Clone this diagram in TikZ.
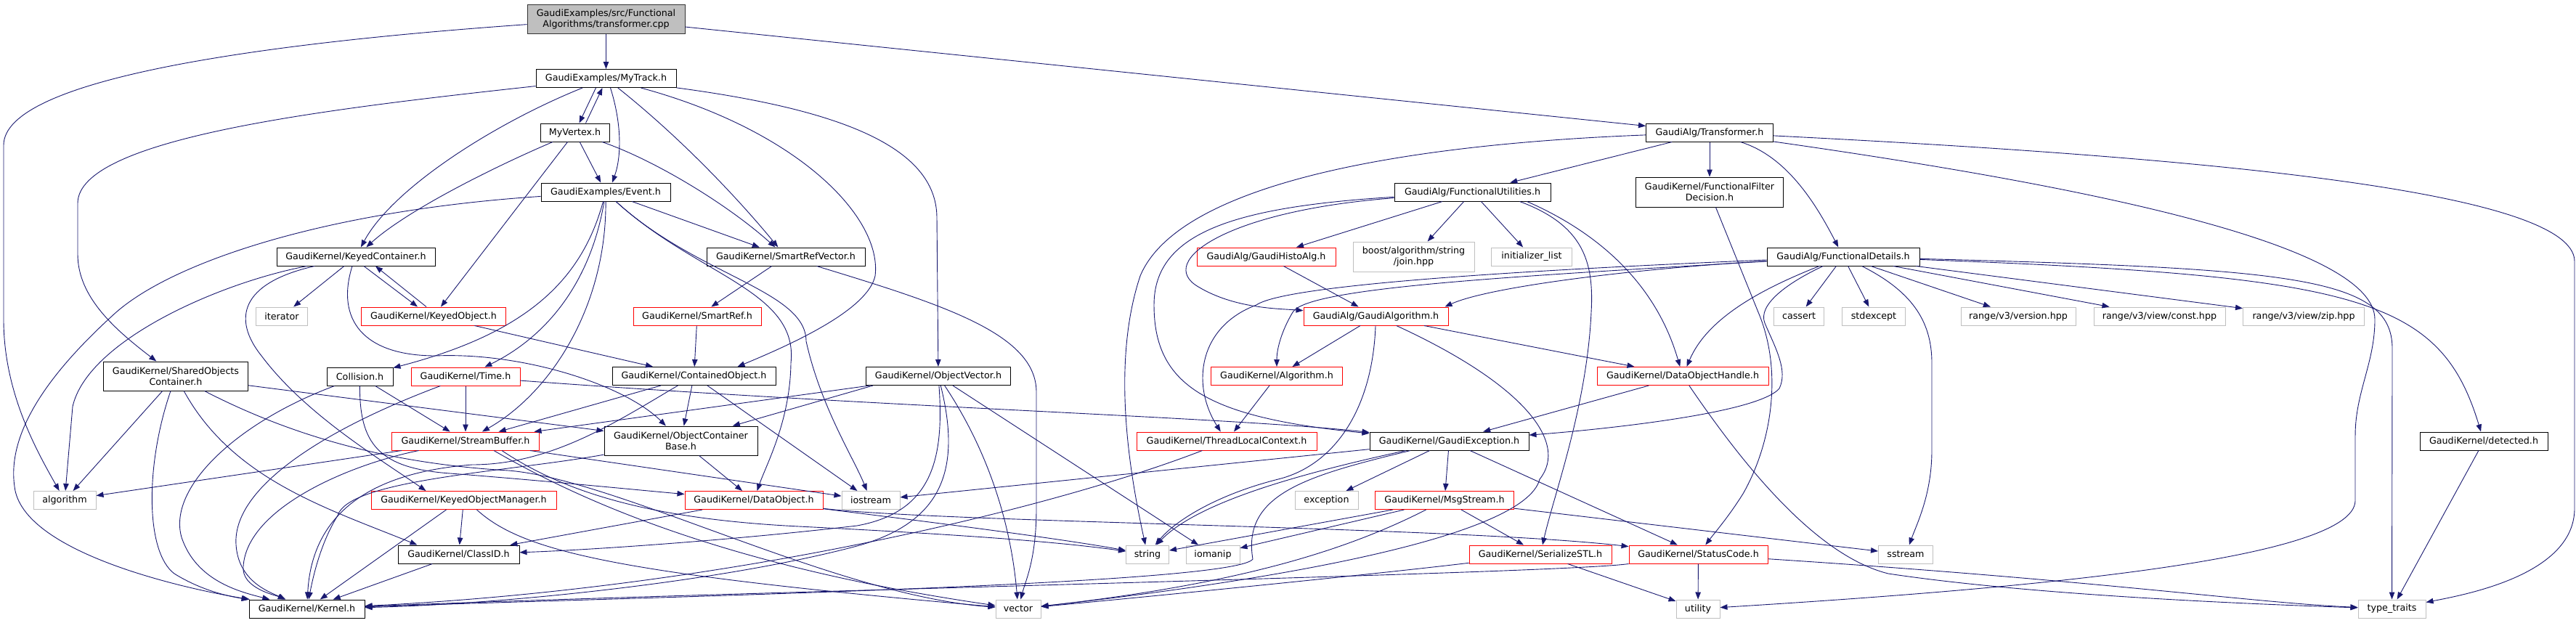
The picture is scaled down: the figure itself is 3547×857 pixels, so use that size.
\documentclass[tikz,border=0pt]{standalone}
\usepackage{fontspec}
\setmainfont{DejaVu Sans}
\usepackage{xcolor}
\usepackage{tikz}
\usetikzlibrary{arrows.meta}
\definecolor{edgeblue}{HTML}{191970}
\definecolor{sysgray}{HTML}{BFBFBF}
\definecolor{rootgray}{HTML}{BFBFBF}
\definecolor{truncred}{HTML}{FF0000}
\tikzset{hdr/.style={rectangle,draw=black,line width=1pt,inner sep=0pt,minimum height=25pt,align=center,font=\fontsize{12.7}{15}\selectfont},
trunc/.style={hdr,draw=truncred},
sys/.style={hdr,draw=sysgray},
top/.style={hdr,fill=rootgray,draw=black!80},
inc/.style={draw=edgeblue,line width=0.9pt,-{Triangle[length=10pt,width=7.5pt]}}}

\begin{document}
\begin{tikzpicture}[x=1pt,y=-1pt]
    \useasboundingbox (0,0) rectangle (3547,857);

    \node[top, minimum width=217pt, minimum height=40pt] (root) at (834.5,26) {GaudiExamples/src/Functional\\Algorithms/transformer.cpp};
    \node[hdr, minimum width=193pt] (mytrack) at (834.5,108) {GaudiExamples/MyTrack.h};
    \node[hdr, minimum width=95pt] (myvertex) at (791.5,182.5) {MyVertex.h};
    \node[hdr, minimum width=178pt] (event) at (834,264.5) {GaudiExamples/Event.h};
    \node[hdr, minimum width=218pt] (keycont) at (490,353.5) {GaudiKernel/KeyedContainer.h};
    \node[hdr, minimum width=218pt] (srefvec) at (1082,353.5) {GaudiKernel/SmartRefVector.h};
    \node[trunc, minimum width=199pt] (keyobj) at (597,435.5) {GaudiKernel/KeyedObject.h};
    \node[sys, minimum width=71pt] (iter) at (388,435.5) {iterator};
    \node[hdr, minimum width=199pt, minimum height=40pt] (shared) at (242,518) {GaudiKernel/SharedObjects\\Container.h};
    \node[sys, minimum width=86pt] (algo) at (89,689) {algorithm};
    \node[hdr, minimum width=159pt] (kernel) at (422.5,838.5) {GaudiKernel/Kernel.h};
    \node[hdr, minimum width=91pt] (collision) at (495.5,518.5) {Collision.h};
    \node[trunc, minimum width=150pt] (time) at (641,518.5) {GaudiKernel/Time.h};
    \node[trunc, minimum width=203pt] (sbuf) at (641,607.5) {GaudiKernel/StreamBuffer.h};
    \node[trunc, minimum width=255pt] (kobjmgr) at (638.5,689) {GaudiKernel/KeyedObjectManager.h};
    \node[hdr, minimum width=167pt] (classid) at (631.5,763.5) {GaudiKernel/ClassID.h};
    \node[trunc, minimum width=176pt] (sref) at (960,435.5) {GaudiKernel/SmartRef.h};
    \node[hdr, minimum width=225pt] (contobj) at (955.5,518) {GaudiKernel/ContainedObject.h};
    \node[hdr, minimum width=211pt, minimum height=40pt] (ocbase) at (937.5,607) {GaudiKernel/ObjectContainer\\Base.h};
    \node[trunc, minimum width=190pt] (dataobj) at (1038,689) {GaudiKernel/DataObject.h};
    \node[sys, minimum width=80pt] (iostr) at (1199,689) {iostream};
    \node[hdr, minimum width=199pt] (objvec) at (1292,518) {GaudiKernel/ObjectVector.h};
    \node[sys, minimum width=59pt] (str) at (1580,763.5) {string};
    \node[sys, minimum width=74pt] (iomanip) at (1670,763.5) {iomanip};
    \node[sys, minimum width=62pt] (vec) at (1402,838.5) {vector};
    \node[trunc, minimum width=248pt] (tlc) at (1689,607.5) {GaudiKernel/ThreadLocalContext.h};
    \node[trunc, minimum width=181pt] (alg) at (1758,518) {GaudiKernel/Algorithm.h};
    \node[trunc, minimum width=191pt] (histoalg) at (1743.5,353.5) {GaudiAlg/GaudiHistoAlg.h};
    \node[trunc, minimum width=199pt] (gaudialg) at (1894.5,435.5) {GaudiAlg/GaudiAlgorithm.h};
    \node[hdr, minimum width=215pt] (futil) at (2027.5,264.5) {GaudiAlg/FunctionalUtilities.h};
    \node[sys, minimum width=167pt, minimum height=41pt] (boostjoin) at (1946.5,353.5) {boost/algorithm/string\\/join.hpp};
    \node[sys, minimum width=111pt] (initlist) at (2109,353.5) {initializer\_list};
    \node[hdr, minimum width=175pt] (transf) at (2354,182.5) {GaudiAlg/Transformer.h};
    \node[hdr, minimum width=203pt, minimum height=41pt] (filterdec) at (2354,264.5) {GaudiKernel/FunctionalFilter\\Decision.h};
    \node[hdr, minimum width=210pt] (fdetail) at (2538,353.5) {GaudiAlg/FunctionalDetails.h};
    \node[sys, minimum width=69pt] (cassert) at (2477,435.5) {cassert};
    \node[sys, minimum width=87pt] (stdexc) at (2580,435.5) {stdexcept};
    \node[sys, minimum width=158pt] (rversion) at (2779,435.5) {range/v3/version.hpp};
    \node[sys, minimum width=181pt] (rconst) at (2973.5,435.5) {range/v3/view/const.hpp};
    \node[sys, minimum width=167pt] (rzip) at (3172,435.5) {range/v3/view/zip.hpp};
    \node[trunc, minimum width=236pt] (dohandle) at (2317,518) {GaudiKernel/DataObjectHandle.h};
    \node[hdr, minimum width=219pt] (gexc) at (1995.5,607.5) {GaudiKernel/GaudiException.h};
    \node[sys, minimum width=87pt] (exc) at (1826.5,689) {exception};
    \node[trunc, minimum width=191pt] (msgstr) at (1989,689) {GaudiKernel/MsgStream.h};
    \node[trunc, minimum width=196pt] (serstl) at (2121,763.5) {GaudiKernel/SerializeSTL.h};
    \node[trunc, minimum width=191pt] (statcode) at (2338.5,763.5) {GaudiKernel/StatusCode.h};
    \node[sys, minimum width=60pt] (util) at (2338,838.5) {utility};
    \node[sys, minimum width=75pt] (sstr) at (2624,763.5) {sstream};
    \node[hdr, minimum width=176pt] (detected) at (3420,607.5) {GaudiKernel/detected.h};
    \node[sys, minimum width=93pt] (typetr) at (3293.5,838.5) {type\_traits};

    \draw [inc] (root) .. controls (350,60) and (5,110) .. (5,200) -- (5,440) .. controls (5,540) and (50,620) .. (algo);
    \draw [inc] (root) to [] (mytrack);
    \draw [inc] (root) to [] (transf);

    \draw [inc] (mytrack) .. controls (450,150) and (107,190) .. (107,280) -- (107,350) .. controls (107,410) and (160,455) .. (shared);
    \draw [inc] (mytrack) .. controls (680,170) and (540,260) .. (keycont);
    \draw [inc] ([xshift=-14pt]mytrack.south) to [] ([xshift=6pt]myvertex.north);
    \draw [inc] ([xshift=15pt]myvertex.north) to [] ([xshift=-5pt]mytrack.south);
    \draw [inc] ([xshift=6pt]mytrack.south) .. controls (856,170) and (856,215) .. ([xshift=9pt]event.north);
    \draw [inc] (mytrack) .. controls (950,200) and (1030,290) .. (srefvec);
    \draw [inc] (mytrack) .. controls (1100,180) and (1215,300) .. (1205,380) .. controls (1195,425) and (1100,470) .. ([xshift=60pt]contobj.north);
    \draw [inc] (mytrack) .. controls (1150,150) and (1290,200) .. (1290,300) -- (objvec);

    \draw [inc] (myvertex) .. controls (680,230) and (560,290) .. (keycont);
    \draw [inc] (myvertex) to [] (keyobj);
    \draw [inc] (myvertex) to [] (event);
    \draw [inc] (myvertex) .. controls (900,220) and (1000,280) .. (srefvec);

    \draw [inc] (event) .. controls (450,290) and (240,360) .. (160,430) .. controls (60,520) and (10,600) .. (20,670) .. controls (30,760) and (250,810) .. (kernel);
    \draw [inc] (event) to [] (srefvec);
    \draw [inc] (event) .. controls (800,390) and (720,460) .. (collision);
    \draw [inc] (event) .. controls (815,380) and (760,460) .. (time);
    \draw [inc] (event) .. controls (835,420) and (760,540) .. (sbuf);
    \draw [inc] (event) .. controls (960,380) and (1100,400) .. (1089,500) .. controls (1088,580) and (1055,640) .. (dataobj);
    \draw [inc] (event) .. controls (960,380) and (1110,400) .. (1110,470) .. controls (1130,560) and (1175,630) .. (iostr);

    \draw [inc] (srefvec) to [] (sref);
    \draw [inc] (srefvec) .. controls (1300,420) and (1427,460) .. (1427,540) -- (1427,700) .. controls (1427,770) and (1412,800) .. (vec);

    \draw [inc] (keycont) .. controls (300,390) and (120,470) .. (100,560) -- (algo);
    \draw [inc] (keycont) .. controls (330,390) and (320,440) .. (360,490) .. controls (420,570) and (520,630) .. ([xshift=-52pt]kobjmgr.north);
    \draw [inc] (keycont) to [] (iter);
    \draw [inc] ([xshift=-5pt]keycont.south) .. controls (462,440) and (500,490) .. (600,490) .. controls (720,485) and (860,530) .. (ocbase);
    \draw [inc] ([xshift=11pt]keycont.south) to [] ([xshift=-22pt]keyobj.north);
    \draw [inc] ([xshift=-10pt]keyobj.north) to [] ([xshift=27pt]keycont.south);
    \draw [inc] (keyobj) to [] (contobj);

    \draw [inc] (shared) to [] (algo);
    \draw [inc] (shared) .. controls (200,640) and (200,760) .. (240,790) .. controls (280,815) and (320,822) .. (kernel);
    \draw [inc] (shared) .. controls (320,660) and (450,700) .. ([xshift=-57pt]classid.north);
    \draw [inc] (shared) .. controls (420,610) and (560,640) .. (700,648) .. controls (850,660) and (1150,820) .. (vec);
    \draw [inc] (shared) to [] (ocbase);

    \draw [inc] (collision) .. controls (330,580) and (230,670) .. (250,740) .. controls (270,800) and (330,815) .. (kernel);
    \draw [inc] (collision) to [] (sbuf);
    \draw [inc] (collision) .. controls (495,610) and (520,645) .. (620,652) .. controls (750,662) and (880,675) .. (dataobj);

    \draw [inc] (time) to [] (sbuf);
    \draw [inc] (time) .. controls (450,590) and (320,670) .. (325,750) .. controls (328,800) and (370,815) .. (kernel);
    \draw [inc] (time) .. controls (1200,560) and (1700,575) .. (gexc);

    \draw [inc] (sbuf) to [] (algo);
    \draw [inc] (sbuf) .. controls (480,640) and (340,700) .. (335,780) .. controls (332,810) and (380,820) .. (kernel);
    \draw [inc] (sbuf) to [] (iostr);
    \draw [inc] ([xshift=50pt]sbuf.south) .. controls (780,680) and (900,715) .. (1100,725) .. controls (1300,735) and (1450,745) .. (str);
    \draw [inc] ([xshift=39pt]sbuf.south) .. controls (800,690) and (1000,780) .. (vec);

    \draw [inc] (contobj) to [] (sbuf);
    \draw [inc] (contobj) .. controls (850,580) and (760,640) .. (650,640) .. controls (520,650) and (430,700) .. (kernel);
    \draw [inc] (contobj) to [] (ocbase);
    \draw [inc] (contobj) to [] (iostr);

    \draw [inc] (ocbase) to [] (dataobj);
    \draw [inc] (ocbase) .. controls (700,650) and (480,660) .. (465,710) .. controls (440,750) and (430,800) .. (kernel);

    \draw [inc] (dataobj) to [] (classid);
    \draw [inc] (dataobj) .. controls (1300,720) and (2000,725) .. (statcode);
    \draw [inc] (dataobj) .. controls (1250,715) and (1450,740) .. (str);

    \draw [inc] ([xshift=-24pt]kobjmgr.south) to [] (kernel);
    \draw [inc] (kobjmgr) to [] (classid);
    \draw [inc] ([xshift=18pt]kobjmgr.south) .. controls (720,760) and (850,790) .. (vec);

    \draw [inc] (classid) to [] (kernel);

    \draw [inc] (objvec) to [] (sbuf);
    \draw [inc] ([xshift=-90pt]objvec.south) to [] (ocbase);
    \draw [inc] (objvec) .. controls (1300,630) and (1285,705) .. (1180,724) .. controls (1000,745) and (800,758) .. (classid);
    \draw [inc] (objvec) .. controls (1325,650) and (1295,720) .. (1180,752) .. controls (1000,800) and (700,832) .. (kernel);
    \draw [inc] (objvec) .. controls (1360,620) and (1392,720) .. (vec);
    \draw [inc] (objvec) to [] (iomanip);

    \draw [inc] (sref) to [] (contobj);
    \draw [inc] (tlc) .. controls (1450,700) and (1000,810) .. (kernel);
    \draw [inc] (alg) to [] (tlc);
    \draw [inc] (histoalg) to [] (gaudialg);

    \draw [inc] (gaudialg) to [] (alg);
    \draw [inc] (gaudialg) to [] (dohandle);
    \draw [inc] (gaudialg) .. controls (1890,560) and (1840,640) .. (1760,660) .. controls (1680,680) and (1620,715) .. (str);
    \draw [inc] (gaudialg) .. controls (2100,530) and (2160,610) .. (2120,660) .. controls (2100,740) and (1750,800) .. (vec);

    \draw [inc] (futil) to [] (histoalg);
    \draw [inc] (futil) to [] (boostjoin);
    \draw [inc] (futil) to [] (initlist);
    \draw [inc] ([xshift=65pt]futil.south) .. controls (2180,310) and (2195,360) .. (2191,430) .. controls (2185,560) and (2140,680) .. (serstl);
    \draw [inc] ([xshift=75pt]futil.south) .. controls (2200,320) and (2280,390) .. (dohandle);
    \draw [inc] (futil) .. controls (1700,285) and (1589,320) .. (1589,420) .. controls (1589,530) and (1660,575) .. (gexc);
    \draw [inc] (futil) .. controls (1690,290) and (1590,360) .. (1650,395) .. controls (1700,425) and (1760,425) .. (gaudialg);

    \draw [inc] (transf) to [] (futil);
    \draw [inc] (transf) to [] (filterdec);
    \draw [inc] (transf) .. controls (2460,215) and (2500,280) .. (fdetail);
    \draw [inc] (transf) .. controls (3000,215) and (3545,260) .. (3545,360) -- (3545,700) .. controls (3545,790) and (3400,818) .. (typetr);
    \draw [inc] (transf) .. controls (2900,260) and (3270,340) .. (3270,440) .. controls (3270,500) and (3243,540) .. (3243,600) -- (3243,690) .. controls (3240,770) and (2800,810) .. (util);
    \draw [inc] (transf) .. controls (1900,200) and (1620,260) .. (1570,380) .. controls (1530,500) and (1555,650) .. (str);

    \draw [inc] (filterdec) -- (2421,430) .. controls (2455,510) and (2440,610) .. (2400,680) .. controls (2380,712) and (2360,735) .. (statcode);

    \draw [inc] (fdetail) to [] (cassert);
    \draw [inc] (fdetail) to [] (stdexc);
    \draw [inc] (fdetail) .. controls (2630,400) and (2660,440) .. (2660,500) -- (2660,620) .. controls (2660,680) and (2640,720) .. (sstr);
    \draw [inc] (fdetail) to [] (rversion);
    \draw [inc] (fdetail) to [] (rconst);
    \draw [inc] (fdetail) to [] (rzip);
    \draw [inc] (fdetail) .. controls (3150,370) and (3294,380) .. (3294,480) -- (typetr);
    \draw [inc] (fdetail) .. controls (3250,380) and (3360,410) .. (detected);
    \draw [inc] (fdetail) .. controls (2420,400) and (2350,440) .. (dohandle);
    \draw [inc] (fdetail) .. controls (2460,390) and (2420,420) .. (2430,445) .. controls (2445,480) and (2462,510) .. (2450,535) .. controls (2420,570) and (2200,592) .. (gexc);
    \draw [inc] (fdetail) .. controls (2100,380) and (1800,395) .. (1780,430) .. controls (1765,455) and (1758,480) .. (alg);
    \draw [inc] (fdetail) .. controls (2100,372) and (1770,392) .. (1730,420) .. controls (1650,450) and (1640,530) .. (tlc);
    \draw [inc] (fdetail) .. controls (2250,370) and (2050,395) .. ([xshift=-5pt]gaudialg.north east);

    \draw [inc] (gexc) to [] (exc);
    \draw [inc] (gexc) to [] (msgstr);
    \draw [inc] (gexc) to [] (statcode);
    \draw [inc] (gexc) to [] (iostr);
    \draw [inc] (gexc) .. controls (1800,650) and (1650,690) .. (str);
    \draw [inc] (gexc) .. controls (1800,655) and (1710,680) .. (1725,770) .. controls (1700,805) and (900,822) .. (kernel);

    \draw [inc] (msgstr) to [] (serstl);
    \draw [inc] (msgstr) to [] (sstr);
    \draw [inc] (msgstr) to [] (str);
    \draw [inc] (msgstr) to [] (iomanip);
    \draw [inc] (msgstr) .. controls (1850,760) and (1700,805) .. (vec);

    \draw [inc] (serstl) to [] (util);
    \draw [inc] (serstl) .. controls (1900,790) and (1600,820) .. (vec);

    \draw [inc] (statcode) to [] (util);
    \draw [inc] (statcode.south west) .. controls (2150,790) and (1000,815) .. (kernel);
    \draw [inc] (statcode) .. controls (2900,800) and (3100,830) .. (typetr);

    \draw [inc] (dohandle) to [] (gexc);
    \draw [inc] (dohandle) .. controls (2400,640) and (2500,765) .. (2600,790) .. controls (2800,820) and (3100,832) .. (typetr);

    \draw [inc] (detected) to [] (typetr);
\end{tikzpicture}
\end{document}
